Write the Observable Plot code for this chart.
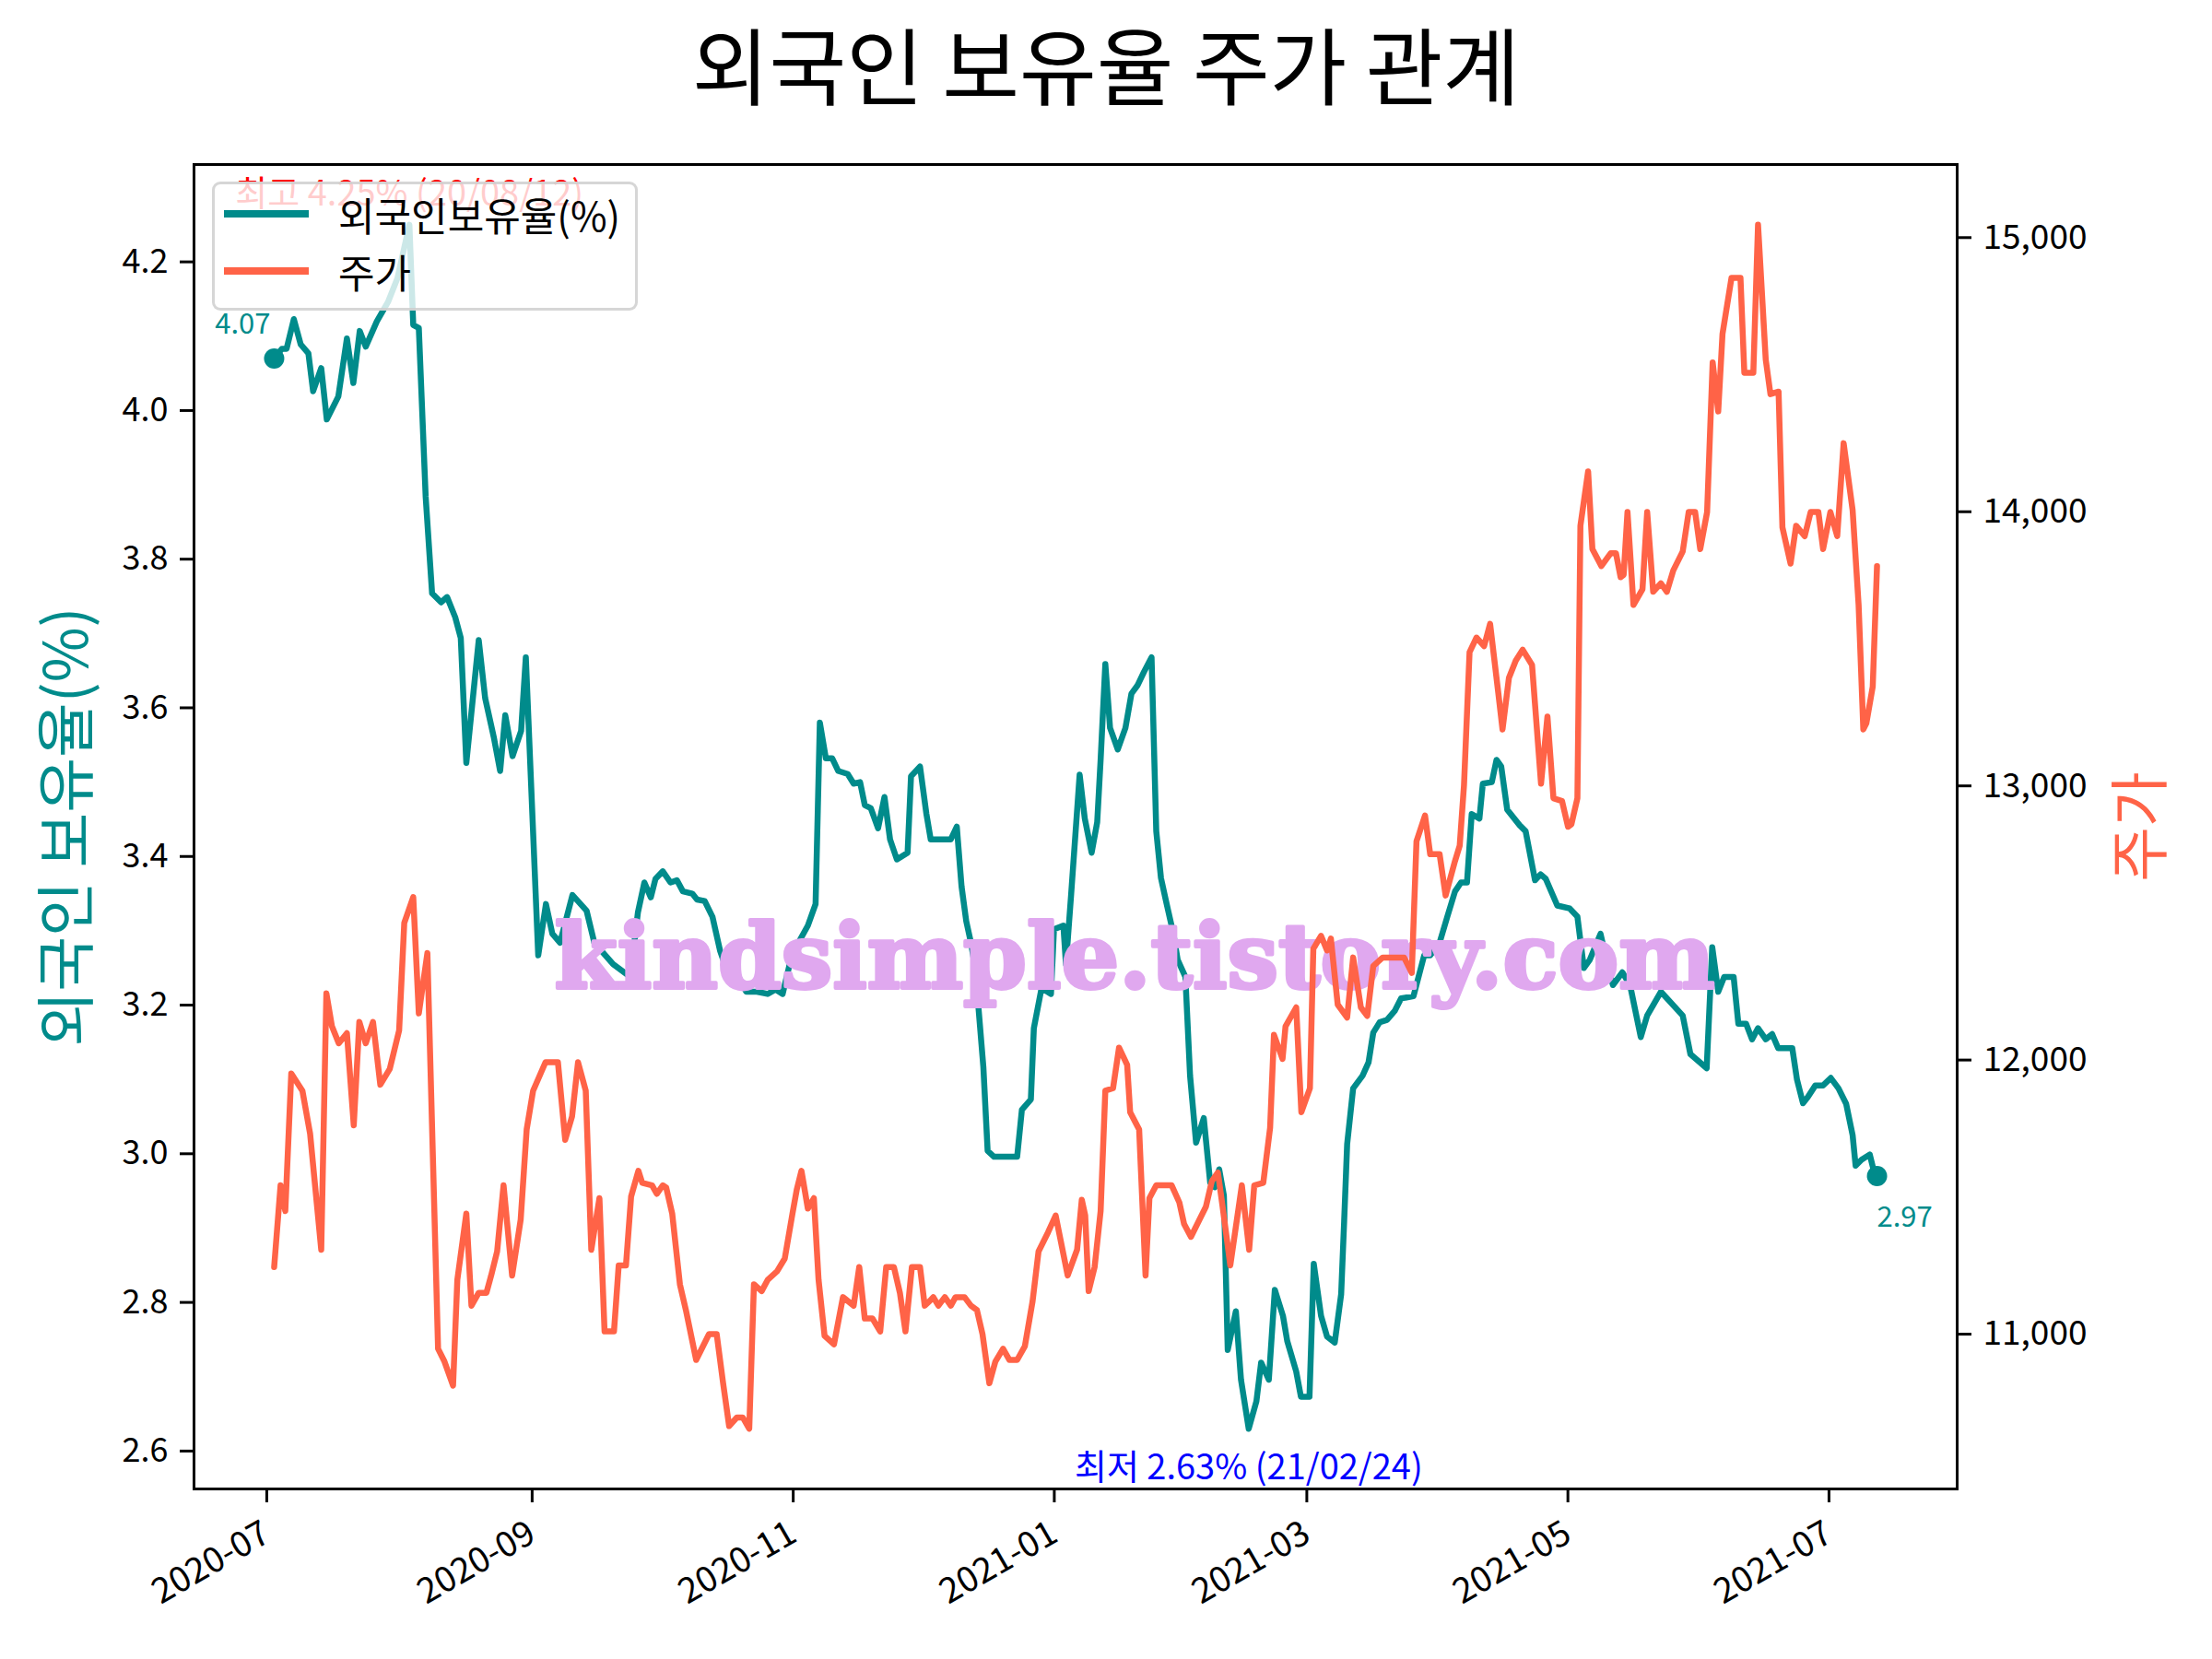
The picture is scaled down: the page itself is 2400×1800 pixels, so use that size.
<!DOCTYPE html>
<html>
<head>
<meta charset="utf-8">
<script src="https://cdn.jsdelivr.net/npm/d3@7"></script>
<script src="https://cdn.jsdelivr.net/npm/@observablehq/plot@0.6"></script>
<style>
  html, body { margin: 0; padding: 0; background: #fff; }
  #wrap { position: relative; width: 2400px; height: 1800px; background: #fff;
          font-family: "Noto Sans CJK KR", "Noto Sans", sans-serif; }
  #title { height: 134px; line-height: 134px; text-align: center; font-size: 91px; color: #000; }
  .legbox { position: absolute; box-sizing: border-box; background: rgba(255,255,255,0.8);
            border: 3px solid rgba(204,204,204,0.8); border-radius: 9px; }
  .legline { position: absolute; height: 8px; }
  .legtext { position: absolute; font-size: 43px; line-height: 1; transform: translateY(-50%); color: #000; white-space: nowrap; }
  svg { display: block; }
</style>
</head>
<body>
<div id="wrap">
  <div id="title"></div>
  <div id="chart"></div>
</div>
<script>
// ---------------- data ----------------
const startDate = "2020-07-01";           // day 0 of the day offsets below
const titleText = "외국인 보유율 주가 관계";
const leftLabel = "외국인 보유율(%)";
const rightLabel = "주가";
const legendLabels = ["외국인보유율(%)", "주가"];
const maxLabel = "최고 4.25% (20/08/12)";
const minLabel = "최저 2.63% (21/02/24)";
const watermarkText = "kindsimple.tistory.com";

const leftTicks = [2.6, 2.8, 3.0, 3.2, 3.4, 3.6, 3.8, 4.0, 4.2];
const priceTicks = [11000, 12000, 13000, 14000, 15000];

// foreign ownership rate (%) : days since startDate, value
const rateDays = [
  0, 1.8, 2.9, 4.6, 6.2, 8, 9.1, 11, 12.3, 15, 17, 18.5, 20, 21.4, 24, 26.6, 28.8, 31.6, 32.5, 33.8,
  35.4, 36.9, 39, 40.4, 42.3, 43.6, 44.9, 47.8, 49.3, 51.3, 52.8, 54, 55.7, 57.7, 58.8, 61.7, 63.5, 65, 66.8, 69.7,
  73, 74.8, 79.2, 83.2, 85, 86.5, 88, 89.1, 90.8, 92.6, 94.1, 95.5, 97.7, 98.8, 100.6, 102.4, 104.2, 105.9, 107.4, 110.3,
  112.8, 115.3, 117.1, 118.8, 120.7, 122.5, 124.7, 126.5, 127.5, 128.9, 130.4, 131.8, 134, 135.4, 136.9, 138, 139.4, 141.1, 142.6, 143.9,
  145.5, 148, 148.8, 150.9, 152.4, 153.4, 155.2, 158.1, 159.5, 160.6, 161.7, 162.8, 163.8, 165.7, 166.7, 168.2, 173.6, 174.7, 176.8, 177.5,
  179.3, 181.5, 182.2, 184.4, 185, 186.2, 188.2, 189.4, 191, 192.3, 193.1, 194.2, 195.3, 197.1, 198.9, 200.3, 201.7, 203.2, 205, 206.1,
  207.2, 208.3, 210.1, 211.1, 212.9, 214, 215.4, 217.2, 218.7, 219.8, 220.8, 221.9, 222.8, 224.7, 225.9, 227.7, 229.5, 230.6, 232.4, 233.8,
  235.7, 236.7, 238.8, 239.9, 241.9, 242.9, 244.6, 246, 247.8, 249.3, 250, 250.7, 252.1, 254.3, 255.7, 256.8, 258.3, 260, 261.8, 263.3,
  266.2, 268.7, 270.1, 272.3, 274.1, 275.9, 277.3, 278.7, 279.8, 281.6, 282.4, 284.5, 285.6, 286.7, 288.1, 291, 292.4, 294.6, 295.9, 297.1,
  299.8, 302.7, 304.5, 306, 307.4, 309.9, 311.7, 312.8, 315, 316.8, 319.3, 320.8, 322.2, 324, 329.1, 330.9, 334.7, 336, 337.4, 338.8,
  341, 342.1, 343.9, 345.3, 346.7, 348.5, 350, 351.4, 354.7, 355.8, 357.2, 358.3, 360.1, 361.9, 363.7, 365.5, 367.3, 368.8, 369.5, 370.9,
  372.8, 373.8, 374.5
];
const rateValues = [
  4.07, 4.083, 4.083, 4.123, 4.089, 4.077, 4.026, 4.057, 3.988, 4.019, 4.097, 4.037, 4.107, 4.086, 4.12, 4.146, 4.178, 4.25, 4.115, 4.111,
  3.884, 3.754, 3.742, 3.749, 3.722, 3.694, 3.526, 3.691, 3.613, 3.561, 3.515, 3.59, 3.535, 3.569, 3.668, 3.267, 3.336, 3.296, 3.284, 3.348,
  3.327, 3.284, 3.255, 3.238, 3.325, 3.365, 3.345, 3.37, 3.38, 3.365, 3.368, 3.353, 3.35, 3.342, 3.34, 3.319, 3.273, 3.244, 3.25, 3.218,
  3.218, 3.215, 3.221, 3.215, 3.261, 3.284, 3.307, 3.336, 3.58, 3.532, 3.532, 3.515, 3.511, 3.498, 3.5, 3.469, 3.465, 3.438, 3.48, 3.423,
  3.396, 3.405, 3.508, 3.521, 3.457, 3.423, 3.423, 3.423, 3.44, 3.36, 3.313, 3.284, 3.25, 3.117, 3.004, 2.996, 2.996, 3.059, 3.073, 3.169,
  3.223, 3.215, 3.302, 3.307, 3.255, 3.348, 3.51, 3.451, 3.405, 3.446, 3.53, 3.659, 3.573, 3.544, 3.573, 3.619, 3.63, 3.648, 3.668, 3.434,
  3.371, 3.342, 3.296, 3.261, 3.238, 3.105, 3.015, 3.048, 2.961, 2.955, 2.979, 2.944, 2.736, 2.788, 2.696, 2.63, 2.667, 2.719, 2.696, 2.817,
  2.782, 2.748, 2.707, 2.673, 2.673, 2.852, 2.782, 2.754, 2.746, 2.811, 2.909, 3.013, 3.088, 3.105, 3.123, 3.163, 3.177, 3.18, 3.192, 3.209,
  3.212, 3.267, 3.267, 3.284, 3.319, 3.353, 3.365, 3.365, 3.457, 3.451, 3.498, 3.5, 3.53, 3.521, 3.463, 3.442, 3.434, 3.368, 3.376, 3.37,
  3.334, 3.33, 3.319, 3.25, 3.261, 3.296, 3.25, 3.227, 3.244, 3.227, 3.157, 3.186, 3.2, 3.218, 3.186, 3.134, 3.115, 3.278, 3.218, 3.238,
  3.238, 3.175, 3.175, 3.154, 3.169, 3.154, 3.161, 3.142, 3.142, 3.1, 3.068, 3.076, 3.092, 3.092, 3.102, 3.088, 3.067, 3.025, 2.984, 2.992,
  2.999, 2.976, 2.97
];

// stock price (KRW) : days since startDate, value
const priceDays = [
  0, 1.5, 2.6, 4, 6.6, 8.4, 11, 12.2, 13.5, 15.1, 17, 18.6, 19.9, 21.4, 23.1, 24.8, 27, 29.2, 30.4, 32.5,
  33.8, 35.8, 38.3, 39.8, 41.8, 42.8, 44.9, 46.1, 47.8, 49.6, 50.7, 52.1, 53.6, 55.6, 57.6, 59, 60.5, 63.4, 66.3, 68,
  69.6, 71, 72.8, 74.1, 76, 77.2, 79.4, 80.5, 82.2, 83.4, 85.1, 86, 88.3, 89.4, 90.8, 91.6, 93, 94.8, 96.2, 98.6,
  101.6, 103.4, 104.9, 106.3, 108.1, 109.5, 111, 112.1, 113.9, 115.3, 117.5, 119.3, 121.1, 122.1, 123.2, 124.7, 126.1, 127.2, 128.6, 130.8,
  132.9, 135.4, 136.7, 138, 139.8, 141.6, 143, 144.8, 146.2, 147.5, 149, 150.9, 152, 153.1, 154, 155.2, 156.7, 158.1, 159.2, 161.3,
  162.8, 164.2, 165.5, 167.1, 168.5, 170.3, 171.8, 173.6, 175.4, 177.2, 178.6, 180.8, 182.6, 184.4, 185.4, 187.6, 188.7, 189.5, 190.3, 191.7,
  193.1, 194.2, 196, 197.4, 199.3, 200, 202.1, 203.6, 204.5, 206.1, 209.7, 211.5, 212.6, 214.2, 216.2, 217.7, 219.1, 220.5, 221.6, 223.4,
  226.1, 227.8, 229, 231.1, 232.7, 233.6, 235.6, 236.3, 238.8, 240, 242, 242.8, 244.6, 246, 246.9, 248.5, 250.7, 252.1, 253.9, 255.4,
  256.8, 259, 264, 265.8, 266.9, 268.9, 270.1, 272.3, 273.7, 275.9, 277, 278, 279.3, 280.9, 282.7, 284.1, 286, 287, 288.5, 290.1,
  291.7, 293.9, 296, 297.5, 298.9, 300.9, 302.3, 303.1, 304.5, 305.2, 307, 308, 310.1, 312.3, 313.5, 314.6, 315.3, 316.2, 317.6, 319.7,
  320.8, 322.2, 324, 325.4, 326.9, 329.1, 330.5, 332, 333.2, 334.8, 336.1, 337.4, 338.4, 340.5, 342.6, 343.5, 345.6, 346.7, 348.5, 349.6,
  351.5, 352.4, 354.3, 355.6, 357.6, 359, 360.8, 361.9, 363.6, 365.2, 366.7, 368.8, 370.2, 371.3, 372, 373.5, 374.5
];
const priceValues = [
  11245, 11543, 11449, 11951, 11888, 11731, 11308, 12243, 12123, 12061, 12098, 11762, 12139, 12061, 12139, 11910, 11967, 12108, 12500, 12594,
  12170, 12390, 10947, 10900, 10812, 11198, 11440, 11104, 11151, 11151, 11214, 11302, 11543, 11214, 11418, 11747, 11888, 11992, 11992, 11709,
  11794, 11992, 11888, 11308, 11496, 11010, 11010, 11251, 11251, 11502, 11596, 11552, 11543, 11512, 11543, 11535, 11440, 11182, 11088, 10906,
  11000, 11000, 10821, 10665, 10696, 10696, 10655, 11182, 11157, 11198, 11229, 11276, 11440, 11527, 11596, 11458, 11496, 11198, 10994, 10963,
  11135, 11104, 11245, 11057, 11057, 11010, 11245, 11245, 11151, 11010, 11245, 11245, 11104, 11120, 11135, 11104, 11135, 11104, 11135, 11135,
  11104, 11088, 11000, 10821, 10900, 10947, 10906, 10906, 10956, 11120, 11302, 11371, 11433, 11292, 11214, 11308, 11490, 11433, 11157, 11245,
  11449, 11888, 11897, 12045, 11982, 11810, 11747, 11214, 11496, 11543, 11543, 11480, 11402, 11355, 11418, 11465, 11559, 11590, 11465, 11251,
  11543, 11308, 11543, 11552, 11753, 12092, 12004, 12123, 12192, 11810, 11897, 12406, 12453, 12400, 12443, 12202, 12155, 12374, 12192, 12161,
  12343, 12374, 12374, 12318, 12798, 12892, 12751, 12751, 12600, 12726, 12782, 13002, 13488, 13541, 13510, 13591, 13341, 13206, 13394, 13457,
  13497, 13441, 13008, 13253, 12955, 12945, 12851, 12860, 12955, 13949, 14147, 13864, 13802, 13849, 13849, 13761, 13770, 13999, 13660, 13717,
  13999, 13708, 13739, 13708, 13786, 13855, 13999, 13999, 13864, 13999, 14545, 14366, 14649, 14853, 14853, 14507, 14507, 15047, 14555, 14429,
  14438, 13943, 13811, 13949, 13911, 13999, 13999, 13864, 13999, 13911, 14250, 14006, 13660, 13206, 13228, 13362, 13802
];

// ---------------- styles ----------------
const TEAL = "#008b8b";
const TOMATO = "#ff6347";
const WM = "#e0a8ef";
const FONT = "'Noto Sans CJK KR', 'Noto Sans', sans-serif";

// ---------------- build ----------------
const DAY = 864e5;
const t0 = new Date(startDate + "T00:00:00Z").getTime();
const toDate = d => new Date(t0 + d * DAY);

const rMin = d3.min(rateValues), rMax = d3.max(rateValues);
const yLo = rMin - (rMax - rMin) * 0.05, yHi = rMax + (rMax - rMin) * 0.05;
const pMin = d3.min(priceValues), pMax = d3.max(priceValues);
const pLo = pMin - (pMax - pMin) * 0.05, pHi = pMax + (pMax - pMin) * 0.05;
const toY = p => yLo + (p - pLo) / (pHi - pLo) * (yHi - yLo);
const fromY = y => pLo + (y - yLo) / (yHi - yLo) * (pHi - pLo);

const allDays = rateDays.concat(priceDays);
const dMin = d3.min(allDays), dMax = d3.max(allDays);
const xLo = toDate(dMin - (dMax - dMin) * 0.05), xHi = toDate(dMax + (dMax - dMin) * 0.05);

const rate = rateDays.map((d, i) => ({date: toDate(d), value: rateValues[i]}));
const price = priceDays.map((d, i) => ({date: toDate(d), value: toY(priceValues[i])}));
const first = rate[0], last = rate[rate.length - 1];
const maxPt = rate[d3.maxIndex(rateValues)], minPt = rate[d3.minIndex(rateValues)];

const xTicks = d3.utcMonth.every(2).range(xLo, xHi);

document.getElementById("title").textContent = titleText;

const plot = Plot.plot({
  width: 2400,
  height: 1666,
  marginTop: 44,
  marginBottom: 185,
  marginLeft: 210,
  marginRight: 277,
  style: {fontFamily: FONT, fontSize: "36px", background: "white", color: "black", overflow: "visible"},
  x: {type: "utc", domain: [xLo, xHi]},
  y: {domain: [yLo, yHi]},
  marks: [
    Plot.line(rate, {x: "date", y: "value", stroke: TEAL, strokeWidth: 6.5, strokeLinejoin: "round", strokeLinecap: "round"}),
    Plot.dot([first, last], {x: "date", y: "value", r: 11, fill: TEAL, stroke: "none"}),
    Plot.text([first], {x: "date", y: "value", text: d => d.value.toFixed(2), textAnchor: "end", dx: -4, dy: -37, fontSize: 31, fill: TEAL}),
    Plot.text([last], {x: "date", y: "value", text: d => d.value.toFixed(2), textAnchor: "start", dx: 0, dy: 45, fontSize: 31, fill: TEAL}),
    Plot.text([maxPt], {x: "date", y: "value", text: () => maxLabel, textAnchor: "middle", dy: -33, fontSize: 38, fill: "red"}),
    Plot.text([minPt], {x: "date", y: "value", text: () => minLabel, textAnchor: "middle", dy: 43, fontSize: 38, fill: "blue"}),
    Plot.text([watermarkText], {frameAnchor: "middle", dx: 64, dy: 144, text: d => d, fontSize: 98,
      fontFamily: "'DejaVu Serif', serif", fontWeight: "bold", fill: WM, stroke: WM, strokeWidth: 4, className: "wm"}),
    Plot.line(price, {x: "date", y: "value", stroke: TOMATO, strokeWidth: 6.5, strokeLinejoin: "round", strokeLinecap: "round"}),
    Plot.frame({stroke: "black", strokeWidth: 3}),
    Plot.axisY({anchor: "left", ticks: leftTicks, tickFormat: d3.format(".1f"), tickSize: 15, tickPadding: 13,
      fontSize: 36, label: null, strokeWidth: 3}),
    Plot.axisY({anchor: "right", ticks: priceTicks.map(toY), tickFormat: d => d3.format(",")(Math.round(fromY(d) / 10) * 10),
      tickSize: 15, tickPadding: 13, fontSize: 37, label: null, strokeWidth: 3}),
    Plot.axisX({ticks: xTicks, tickFormat: d3.utcFormat("%Y-%m"), tickRotate: -30, tickSize: 15, tickPadding: 30,
      fontSize: 38, label: null, strokeWidth: 3, dx: -8}),
    Plot.text([leftLabel], {frameAnchor: "left", dx: -136, rotate: -90, text: d => d, fontSize: 65, fill: TEAL,
      textAnchor: "middle", lineAnchor: "middle"}),
    Plot.text([rightLabel], {frameAnchor: "right", dx: 201, rotate: -90, text: d => d, fontSize: 65, fill: TOMATO,
      textAnchor: "middle", lineAnchor: "middle"})
  ]
});
// stretch watermark to the reference's width
d3.select(plot).selectAll(".wm text").attr("textLength", 1259).attr("lengthAdjust", "spacingAndGlyphs");
document.getElementById("chart").appendChild(plot);

// legend (matplotlib-like box overlay)
const wrap = document.getElementById("wrap");
const box = document.createElement("div");
box.className = "legbox";
Object.assign(box.style, {left: "230px", top: "197px", width: "462px", height: "140px"});
wrap.appendChild(box);
[TEAL, TOMATO].forEach((c, i) => {
  const y = 232 + i * 62;
  const ln = document.createElement("div");
  ln.className = "legline";
  Object.assign(ln.style, {left: "243px", top: (y - 4) + "px", width: "92px", background: c});
  wrap.appendChild(ln);
  const tx = document.createElement("div");
  tx.className = "legtext";
  Object.assign(tx.style, {left: "367px", top: y + "px"});
  tx.textContent = legendLabels[i];
  wrap.appendChild(tx);
});
</script>
</body>
</html>
